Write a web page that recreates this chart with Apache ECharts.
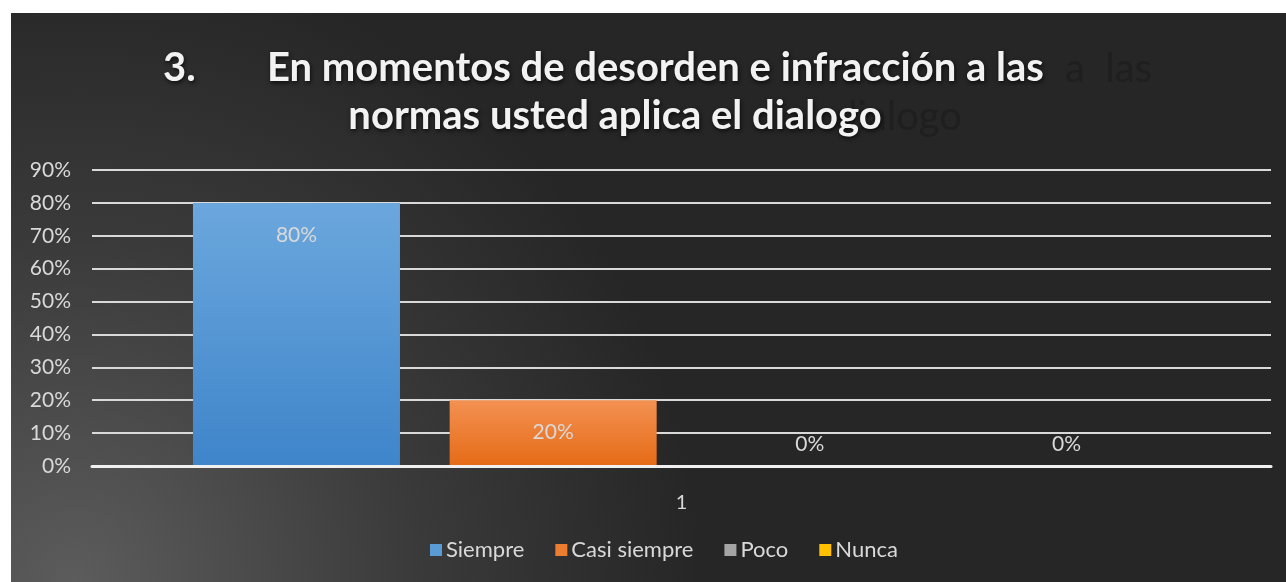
<!DOCTYPE html>
<html>
<head>
<meta charset="utf-8">
<script src="https://cdn.jsdelivr.net/npm/echarts@6/dist/echarts.min.js"></script>
<style>
  html, body { margin: 0; padding: 0; background: #ffffff; }
  #chart { position: absolute; left: 11px; top: 13px; width: 1275px; height: 569px; }
</style>
</head>
<body>
<div id="chart"></div>
<script>
const categories = ['1'];
const seriesNames = ['Siempre', 'Casi siempre', 'Poco', 'Nunca'];
const siempre = [80];
const casiSiempre = [20];
const poco = [0];
const nunca = [0];
const yTicks = [0, 10, 20, 30, 40, 50, 60, 70, 80, 90];
const titleNumber = '3.';
const titleLine1 = 'En momentos de desorden e infracción a las';
const titleLine2 = 'normas usted aplica el dialogo';

const seriesValues = [siempre, casiSiempre, poco, nunca];
const colors = [
  ['#6ba7dd', '#3f85ca'],
  ['#f39152', '#e56b16'],
  ['#a5a5a5', '#8f8f8f'],
  ['#ffc000', '#e6ad00']
];
const legendColors = ['#5b9bd5', '#ed7d31', '#a5a5a5', '#ffc000'];

const chart = echarts.init(document.getElementById('chart'), null, { renderer: 'canvas' });

const titleStyle = {
  fontFamily: 'Lato', fontWeight: 'bold', fontSize: 40, fill: '#f2f2f2',
  textVerticalAlign: 'middle',
  textShadowColor: 'rgba(0,0,0,0.7)', textShadowBlur: 4, textShadowOffsetX: 1, textShadowOffsetY: 2
};
const ghostStyle = {
  fontFamily: 'Lato', fontWeight: 'normal', fontSize: 40, fill: '#1f1f1f',
  textVerticalAlign: 'middle', textAlign: 'right'
};

const option = {
  backgroundColor: {
    type: 'radial', x: 0.05, y: 1, r: 1.1,
    colorStops: [
      { offset: 0, color: '#5c5c5c' },
      { offset: 0.55, color: '#3a3a3a' },
      { offset: 1, color: '#262626' }
    ]
  },
  animation: false,
  graphic: [
    { type: 'text', z: 0, style: Object.assign({ text: 'a  las', x: 1141, y: 56 }, ghostStyle) },
    { type: 'text', z: 0, style: Object.assign({ text: 'dialogo', x: 951, y: 104 }, ghostStyle) },
    { type: 'text', z: 1, style: Object.assign({ text: titleNumber, x: 152, y: 55 }, titleStyle) },
    { type: 'text', z: 1, style: Object.assign({ text: titleLine1, x: 256, y: 55 }, titleStyle) },
    { type: 'text', z: 1, style: Object.assign({ text: titleLine2, x: 604, y: 103, textAlign: 'center' }, titleStyle) }
  ],
  legend: {
    bottom: 16,
    left: 414,
    itemWidth: 12, itemHeight: 12, itemGap: 31,
    icon: 'rect',
    textStyle: { color: '#d9d9d9', fontSize: 22, fontFamily: 'Lato', padding: [0, 0, 0, -1] },
    data: seriesNames.map((n, i) => ({ name: n, itemStyle: { color: legendColors[i] } }))
  },
  grid: { left: 81, right: 15, top: 157, bottom: 116, containLabel: false },
  xAxis: {
    type: 'category',
    data: categories,
    axisLine: { show: true, lineStyle: { color: '#f0f0f0', width: 3 } },
    axisTick: { show: false },
    axisLabel: { color: '#d9d9d9', fontSize: 20, fontFamily: 'Lato', margin: 27 },
    z: 5
  },
  yAxis: {
    type: 'value',
    min: yTicks[0], max: yTicks[yTicks.length - 1], interval: 10,
    axisLine: { show: false },
    axisTick: { show: false },
    axisLabel: { color: '#d9d9d9', fontSize: 21, fontFamily: 'Lato', margin: 21, formatter: v => v + '%' },
    splitLine: { lineStyle: { color: '#d9d9d9', width: 2 } }
  },
  series: seriesNames.map((name, i) => ({
    name: name,
    type: 'bar',
    barWidth: 207,
    barGap: '24%',
    itemStyle: {
      color: { type: 'linear', x: 0, y: 0, x2: 0, y2: 1, colorStops: [{ offset: 0, color: colors[i][0] }, { offset: 1, color: colors[i][1] }] }
    },
    label: {
      show: true, color: '#d9d9d9', fontSize: 21, fontFamily: 'Lato',
      formatter: p => p.value + '%'
    },
    data: seriesValues[i].map(v => ({
      value: v,
      label: v > 0 ? { position: 'insideTop', distance: 22 } : { position: 'top', distance: 11 }
    }))
  }))
};
chart.setOption(option);
</script>
</body>
</html>
